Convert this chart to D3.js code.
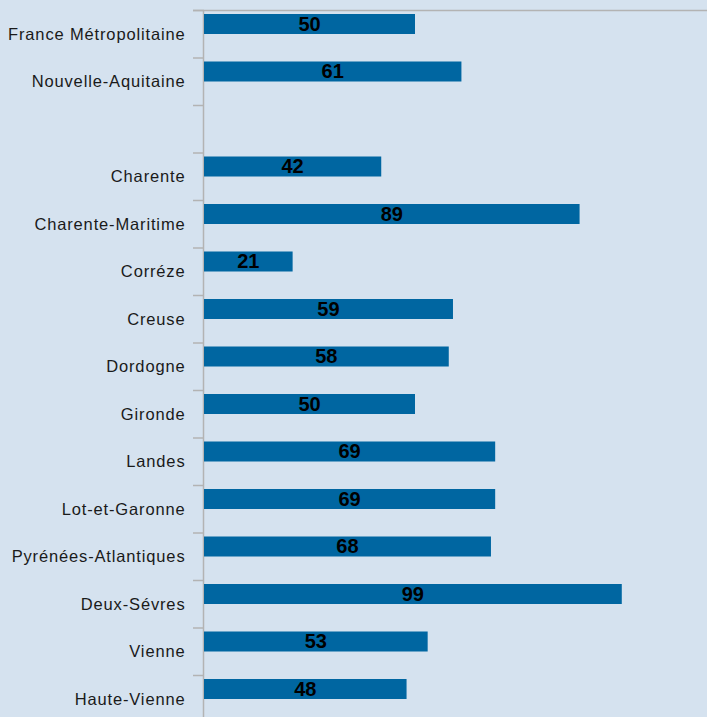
<!DOCTYPE html>
<html><head><meta charset="utf-8">
<script src="https://cdn.jsdelivr.net/npm/d3@7"></script>
<style>html,body{margin:0;padding:0;background:#d5e2ef;}svg{display:block;}</style>
</head><body>
<script>
const categories = ["France Métropolitaine","Nouvelle-Aquitaine","","Charente","Charente-Maritime","Corréze","Creuse","Dordogne","Gironde","Landes","Lot-et-Garonne","Pyrénées-Atlantiques","Deux-Sévres","Vienne","Haute-Vienne"];
const values = [50,61,null,42,89,21,59,58,50,69,69,68,99,53,48];

const W = 707, H = 717;
const svg = d3.select("body").append("svg").attr("width", W).attr("height", H);
svg.append("rect").attr("width", W).attr("height", H).attr("fill", "#d5e2ef");

const x0 = 204, plotTop = 10, step = 47.5;
const ids = categories.map((c,i)=>i);
const y = d3.scaleBand().domain(ids).range([plotTop, plotTop + step*categories.length]).padding(0);
const x = d3.scaleLinear().domain([0, 120]).range([x0, x0 + 120*4.22]);

// top horizontal line
svg.append("line").attr("x1",193).attr("x2",W).attr("y1",plotTop+0.5).attr("y2",plotTop+0.5)
  .attr("stroke","#b3b3b3").attr("stroke-width",1.5);
// ticks at band boundaries
ids.forEach(i=>{
  const yy = y(i) + 0.5;
  svg.append("line").attr("x1",193).attr("x2",x0).attr("y1",yy).attr("y2",yy)
    .attr("stroke","#b3b3b3").attr("stroke-width",1.5);
});
// vertical axis
svg.append("line").attr("x1",x0-0.5).attr("x2",x0-0.5).attr("y1",plotTop).attr("y2",H)
  .attr("stroke","#b3b3b3").attr("stroke-width",1.5);

const data = ids.filter(i=>values[i]!=null);
svg.selectAll("rect.bar").data(data).join("rect").attr("class","bar")
  .attr("x", x(0)).attr("y", i=>y(i)+4).attr("height", 20)
  .attr("width", i=>x(values[i])-x(0)).attr("fill","#0066a1");

svg.selectAll("text.val").data(data).join("text").attr("class","val")
  .attr("x", i=>(x(0)+x(values[i]))/2).attr("y", i=>y(i)+13.5)
  .attr("dy","0.35em").attr("text-anchor","middle")
  .attr("font-family","Liberation Sans, Arial, sans-serif").attr("font-weight","bold")
  .attr("font-size",20).attr("fill","#000").text(i=>values[i]);

svg.selectAll("text.cat").data(ids).join("text").attr("class","cat")
  .attr("x", 185.5).attr("y", i=>y(i)+y.bandwidth()/2)
  .attr("dy","0.35em").attr("text-anchor","end")
  .attr("font-family","Liberation Sans, Arial, sans-serif")
  .attr("font-size",16.5).attr("letter-spacing","0.85px").attr("fill","#1a1a1a").text(i=>categories[i]);
</script>
</body></html>
